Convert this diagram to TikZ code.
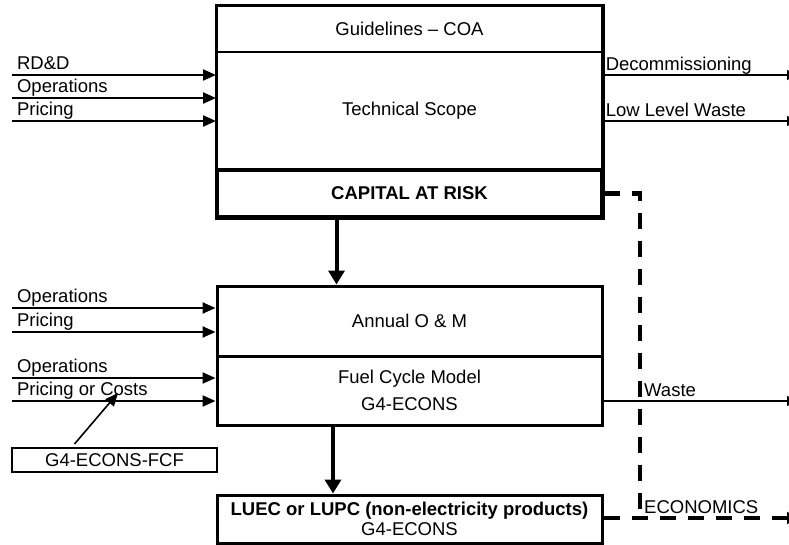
\documentclass[tikz,border=0pt]{standalone}
\usepackage{fontspec}
\setmainfont{Liberation Sans}
\usetikzlibrary{arrows.meta, positioning}

\begin{document}
\begin{tikzpicture}[x=1pt, y=-1pt, font=\fontsize{18.5}{22}\selectfont,
  box/.style={draw, line width=3pt, minimum width=385pt, inner sep=0pt, align=center},
  flow/.style={line width=2.2pt, -{Triangle[length=13pt, width=11pt]}},
  outflow/.style={line width=1.6pt, -{Triangle[length=10pt, width=10pt]}},
  bigflow/.style={line width=4pt, -{Triangle[length=14pt, width=16pt]}},
  econ/.style={line width=4.5pt, dash pattern=on 16pt off 12pt},
  lbl/.style={anchor=south west, inner sep=0pt, text depth=4pt}]
  \useasboundingbox (0,0) rectangle (789,544);
  % Capital block
  \node[box, line width=2pt, minimum height=46pt] (guide) at (409.5,29) {Guidelines -- COA};
  \node[box, line width=2pt, minimum height=118pt] (tech) at (409.5,111) {Technical Scope};
  \node[box, line width=3.5pt, minimum height=47pt] (capital) at (409.5,193.5) {\textbf{CAPITAL AT RISK}};
  \draw[line width=3pt] (guide.north west) rectangle (capital.south east);
  % O&M and fuel block
  \node[box, minimum height=70pt] (annual) at (409.5,321) {Annual O \& M};
  \node[box, minimum height=69pt] (fuel) at (409.5,390.5) {Fuel Cycle Model\\[5pt]G4-ECONS};
  \node[box, minimum height=48pt] (luec) at (409.5,519) {\textbf{LUEC or LUPC (non-electricity products)}\\[-2pt]G4-ECONS};
  \node[draw, line width=2pt, minimum width=205pt, minimum height=24pt, inner sep=0pt] (fcf) at (114.5,460) {G4-ECONS-FCF};
  % Inputs
  \foreach \y/\t [count=\i] in {75/RD\&D, 98/Operations, 121/Pricing} {
    \coordinate (in\i) at (12,\y);
    \draw[flow] (in\i) node[lbl, xshift=4pt] {\t} -- (tech.west |- in\i);
  }
  \foreach \y/\t [count=\i] in {308/Operations, 332/Pricing} {
    \coordinate (om\i) at (12,\y);
    \draw[flow] (om\i) node[lbl, xshift=4pt] {\t} -- (annual.west |- om\i);
  }
  \foreach \y/\t [count=\i] in {378/Operations, 401/Pricing or Costs} {
    \coordinate (fc\i) at (12,\y);
    \draw[flow] (fc\i) node[lbl, xshift=4pt] {\t} -- (fuel.west |- fc\i);
  }
  \coordinate (fcfin) at (118,393);
  \draw[flow, line width=1.6pt] ([xshift=-40pt, yshift=3pt]fcf.north) -- (fcfin);
  % Outputs
  \coordinate (outA) at (797,75);
  \coordinate (outB) at (797,121);
  \coordinate (outC) at (797,401);
  \draw[outflow] (tech.east |- outA) node[lbl, xshift=2pt] {Decommissioning} -- (outA);
  \draw[outflow] (tech.east |- outB) node[lbl, xshift=2pt] {Low Level Waste} -- (outB);
  \draw[outflow] (fuel.east |- outC) -- (outC);
  \node[lbl] (waste) at (644,401) {Waste};
  % Main flow
  \draw[bigflow] ([xshift=-73pt]capital.south) -- ([xshift=-73pt]annual.north);
  \draw[bigflow] ([xshift=-76.5pt]fuel.south) -- ([xshift=-76.5pt]luec.north);
  % Economics
  \coordinate (econ) at (640,518);
  \coordinate (outD) at (797,518);
  \draw[econ] (capital.east) -| (econ);
  \draw[econ, -{Triangle[length=10pt, width=12pt]}] (luec.east |- econ) -- (outD);
  \node[lbl] (econlbl) at (644,518) {ECONOMICS};
\end{tikzpicture}
\end{document}
